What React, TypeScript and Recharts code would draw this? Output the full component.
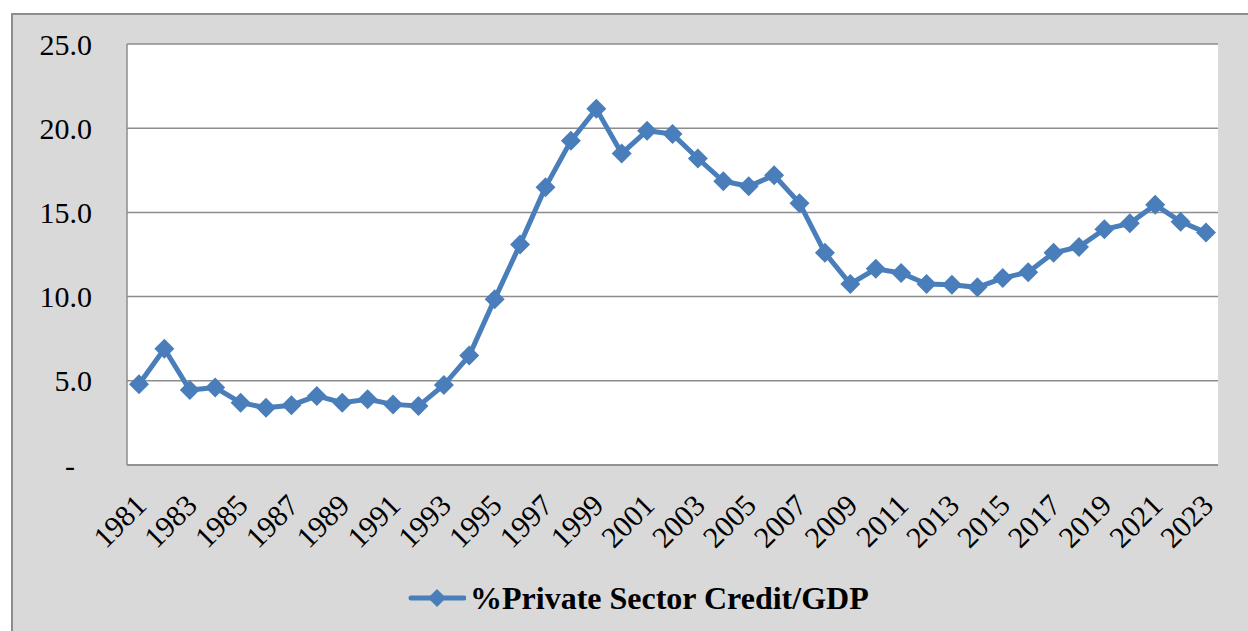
import { CartesianGrid, Line, LineChart, XAxis, YAxis } from "recharts";

const years = [
  1981, 1982, 1983, 1984, 1985, 1986, 1987, 1988, 1989, 1990, 1991, 1992, 1993, 1994, 1995,
  1996, 1997, 1998, 1999, 2000, 2001, 2002, 2003, 2004, 2005, 2006, 2007, 2008, 2009, 2010,
  2011, 2012, 2013, 2014, 2015, 2016, 2017, 2018, 2019, 2020, 2021, 2022, 2023,
];

const creditToGdp = [
  4.8, 6.9, 4.45, 4.6, 3.7, 3.4, 3.55, 4.1, 3.7, 3.9, 3.6, 3.5, 4.75, 6.5, 9.85,
  13.1, 16.5, 19.25, 21.15, 18.5, 19.85, 19.65, 18.2, 16.85, 16.55, 17.2, 15.55, 12.6, 10.75, 11.65,
  11.4, 10.75, 10.7, 10.55, 11.1, 11.45, 12.6, 12.95, 14.0, 14.35, 15.45, 14.45, 13.8,
];

const yTicks = [0, 5, 10, 15, 20, 25];
const seriesName = "%Private Sector Credit/GDP";

const data = years.map((y, i) => ({ year: String(y), value: creditToGdp[i] }));

const blue = "#4a7ebb";
const gray = "#8c8c8c";
const font = "Liberation Serif, Times New Roman, DejaVu Serif, serif";

function Diamond(props: any) {
  const { cx, cy, index } = props;
  if (cx == null || cy == null) return null;
  const r = 10;
  return (
    <path
      key={`d-${index}`}
      d={`M${cx},${cy - r} L${cx + r},${cy} L${cx},${cy + r} L${cx - r},${cy} Z`}
      fill={blue}
    />
  );
}

function YTick(props: any) {
  const { x, y, payload } = props;
  const v = payload.value;
  return (
    <text
      x={v === 0 ? x - 17 : x}
      y={y}
      dy="0.355em"
      textAnchor="end"
      style={{ fontFamily: font, fontSize: 30 }}
      fill="#000"
    >
      {v === 0 ? "-" : v.toFixed(1)}
    </text>
  );
}

function XTick(props: any) {
  const { x, y, payload } = props;
  return (
    <text
      x={x - 6}
      y={y}
      dy="0.71em"
      textAnchor="end"
      transform={`rotate(-45, ${x - 6}, ${y})`}
      style={{ fontFamily: font, fontSize: 30 }}
      fill="#000"
    >
      {payload.value}
    </text>
  );
}

export default function App() {
  return (
    <div
      style={{
        position: "absolute",
        left: 11,
        top: 13,
        width: 1260,
        height: 640,
        background: "#d9d9d9",
        border: `2px solid ${gray}`,
        boxSizing: "border-box",
        fontFamily: font,
      }}
    >
      <LineChart
        width={1240}
        height={620}
        data={data}
        margin={{ top: 29, right: 35, bottom: 110, left: 0 }}
        style={{ fontFamily: font }}
      >
        <CartesianGrid vertical={false} stroke={gray} strokeWidth={1.5} fill="#fff" fillOpacity={1} />
        <XAxis
          dataKey="year"
          interval={1}
          padding={{ left: 12, right: 12 }}
          height={60}
          tickLine={false}
          tickSize={0}
          tickMargin={27}
          axisLine={{ stroke: gray, strokeWidth: 1.5 }}
          tick={<XTick />}
        />
        <YAxis
          domain={[0, 25]}
          ticks={yTicks}
          width={114}
          tickLine={false}
          tickSize={0}
          tickMargin={35}
          axisLine={{ stroke: gray, strokeWidth: 1.5 }}
          tick={<YTick />}
        />
        <Line
          dataKey="value"
          name={seriesName}
          stroke={blue}
          strokeWidth={5}
          dot={<Diamond />}
          activeDot={false}
          isAnimationActive={false}
        />
      </LineChart>
      <div
        style={{
          position: "absolute",
          left: 395,
          top: 563,
          height: 40,
          display: "flex",
          alignItems: "center",
          fontFamily: font,
          fontSize: 32,
          fontWeight: "bold",
          whiteSpace: "nowrap",
        }}
      >
        <svg width={58} height={24} style={{ marginRight: 4 }}>
          <line x1={3} y1={12} x2={56} y2={12} stroke={blue} strokeWidth={5} strokeLinecap="round" />
          <path d="M29,3 L38,12 L29,21 L20,12 Z" fill={blue} />
        </svg>
        <span>{seriesName}</span>
      </div>
    </div>
  );
}
